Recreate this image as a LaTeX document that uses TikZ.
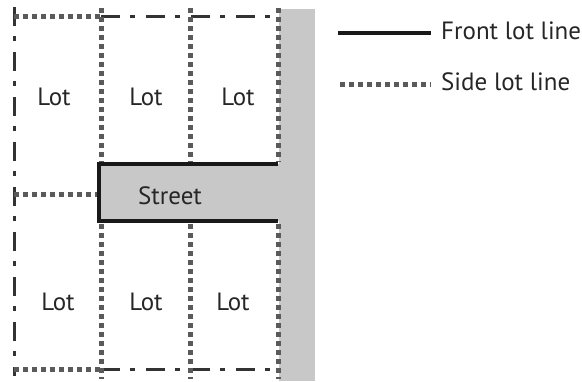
\documentclass[tikz,border=0pt]{standalone}
\usepackage{fontspec}
\setmainfont{PT Sans}
\definecolor{dotgray}{HTML}{5A5A5A}
\definecolor{dashgray}{HTML}{333333}
\definecolor{streetgray}{HTML}{C8C8C8}
\begin{document}
\begin{tikzpicture}[x=1pt,y=-1pt,
  sideline/.style={draw=dotgray,line width=5pt,dash pattern=on 4.5pt off 4.5pt},
  rearline/.style={draw=dashgray,line width=3pt,dash pattern=on 19pt off 10pt on 5pt off 11pt},
  frontline/.style={draw=black!90,line width=4.5pt,line join=miter},
  lbl/.style={font=\fontsize{25}{29}\selectfont,text=black!85,inner sep=0pt}]
\useasboundingbox (0,0) rectangle (582,381);
% gray street strip and side street
\fill[streetgray] (279,9) rectangle (315,381);
\fill[streetgray] (99,164) rectangle (280,221);
% coordinates
\coordinate (tl) at (14,16);
\coordinate (tA) at (101,16);
\coordinate (tr) at (278,16);
\coordinate (bl) at (14,369);
\coordinate (bA) at (101,369);
\coordinate (br) at (278,369);
\coordinate (lt) at (14,7);
\coordinate (lb) at (14,376);
\coordinate (sA) at (99,164);
\coordinate (sB) at (278,164);
\coordinate (sC) at (99,221);
\coordinate (sD) at (278,221);
\coordinate (mL) at (14,194);
\coordinate (mR) at (97,194);
% rear lines (dash-dot)
\draw[rearline] (tA) -- (tr);
\draw[rearline] (bA) -- (br);
\draw[rearline] (lt) -- (lb);
% side lot lines (dotted)
\draw[sideline] (tl) -- (tA);
\draw[sideline] (bl) -- (bA);
\draw[sideline] (mL) -- (mR);
\draw[sideline] (101,8) -- (101,162);
\draw[sideline] (190,8) -- (190,162);
\draw[sideline] (278,8) -- (278,162);
\draw[sideline] (101,224) -- (101,379);
\draw[sideline] (190,224) -- (190,379);
\draw[sideline] (278,224) -- (278,379);
% front lot line around street
\draw[frontline] (sB) -- (sA) -- (sC) -- (sD);
% labels
\node[lbl] (l1) at (54,97) {Lot};
\node[lbl] (l2) at (146,97) {Lot};
\node[lbl] (l3) at (238,97) {Lot};
\node[lbl] (l4) at (58,302) {Lot};
\node[lbl] (l5) at (146,302) {Lot};
\node[lbl] (l6) at (233,302) {Lot};
\node[lbl] (st) at (170,196) {Street};
% legend
\coordinate (f1) at (338,33);
\coordinate (f2) at (431,33);
\coordinate (s1) at (340,84);
\coordinate (s2) at (431,84);
\draw[frontline] (f1) -- (f2);
\draw[sideline] (s1) -- (s2);
\node[lbl,anchor=west] (ft) at (441,31) {Front lot line};
\node[lbl,anchor=west] (sd) at (441,82) {Side lot line};
\end{tikzpicture}
\end{document}
